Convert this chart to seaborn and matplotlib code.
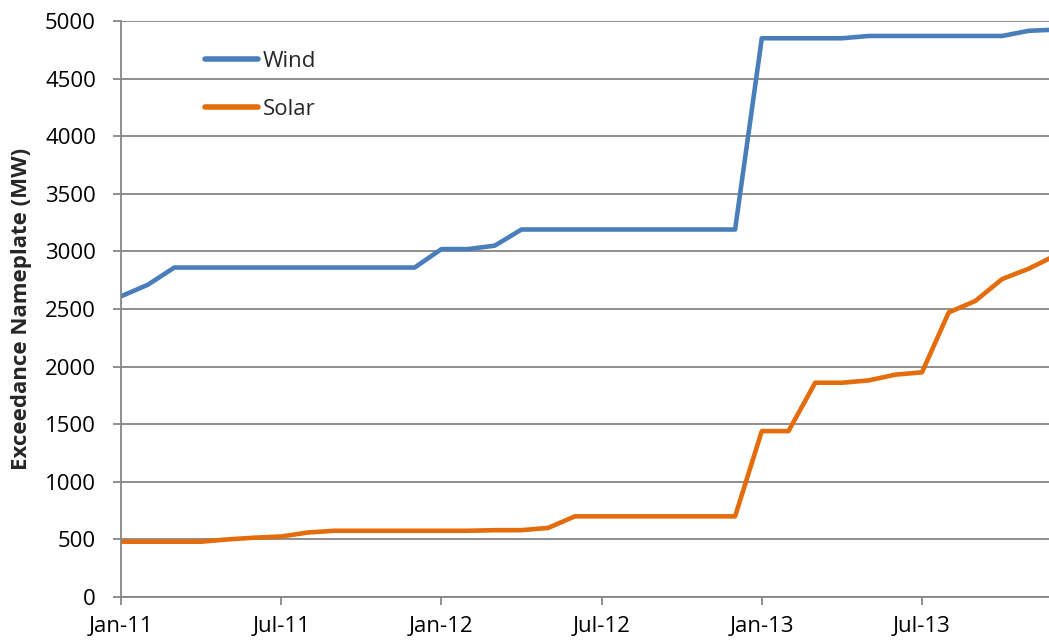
import numpy as np
import pandas as pd
import matplotlib
matplotlib.use("Agg")
import matplotlib.pyplot as plt
import seaborn as sns

months = pd.date_range("2011-01-01", "2013-12-01", freq="MS")
wind = [2610, 2710, 2860, 2860, 2860, 2860, 2860, 2860, 2860, 2860, 2860, 2860,
        3020, 3020, 3050, 3190, 3190, 3190, 3190, 3190, 3190, 3190, 3190, 3190,
        4850, 4850, 4850, 4850, 4870, 4870, 4870, 4870, 4870, 4870, 4915, 4925]
solar = [480, 480, 480, 480, 500, 515, 525, 560, 575, 575, 575, 575,
         575, 575, 580, 580, 600, 700, 700, 700, 700, 700, 700, 700,
         1440, 1440, 1860, 1860, 1880, 1930, 1950, 2470, 2570, 2760, 2850, 2965]
series_names = ["Wind", "Solar"]
colors = ["#4A7EBB", "#E46C0A"]
y_ticks = list(range(0, 5001, 500))
x_tick_labels = ["Jan-11", "Jul-11", "Jan-12", "Jul-12", "Jan-13", "Jul-13"]

month_idx = np.arange(len(months))
df = pd.concat([
    pd.DataFrame({"month": month_idx, "value": wind, "series": "Wind"}),
    pd.DataFrame({"month": month_idx, "value": solar, "series": "Solar"}),
])

sns.set_theme(style="white")
plt.rcParams["font.family"] = ["Open Sans", "DejaVu Sans"]

W, H = 1049, 643
fig = plt.figure(figsize=(W / 100, H / 100), dpi=100)
ax_left, ax_right_px, ax_top, ax_bottom = 121, 1070, 21, 597
ax = fig.add_axes([ax_left / W, 1 - ax_bottom / H, (ax_right_px - ax_left) / W,
                   (ax_bottom - ax_top) / H])

sns.lineplot(data=df, x="month", y="value", hue="series", hue_order=series_names,
             palette=colors, linewidth=3.3, ax=ax, legend=True)

ax.set_ylim(0, 5000)
px_per_month = (922 - 121) / 30
ax.set_xlim(0, (ax_right_px - ax_left) / px_per_month)

ax.set_yticks(y_ticks)
ax.set_xticks(np.arange(0, 31, 6))
ax.set_xticklabels(x_tick_labels)

ax.grid(axis="y", color="#868686", linewidth=1.3)
ax.set_axisbelow(True)
for s in ["top", "right"]:
    ax.spines[s].set_visible(False)
for s in ["left", "bottom"]:
    ax.spines[s].set_color("#868686")
    ax.spines[s].set_linewidth(1.3)
ax.tick_params(axis="both", which="both", direction="out", length=6, width=1.3,
               color="#868686", labelsize=16, labelcolor="black",
               left=True, bottom=True)
ax.tick_params(axis="y", pad=12)
ax.tick_params(axis="x", pad=8)

ax.set_xlabel("")
ax.set_ylabel("Exceedance Nameplate (MW)", fontsize=16, fontweight="bold", labelpad=9)

leg = ax.legend(loc="upper left", bbox_to_anchor=((205 - ax_left) / (ax_right_px - ax_left),
                                                  (ax_bottom - 51) / (ax_bottom - ax_top)),
                frameon=False, fontsize=16, handlelength=2.4, handletextpad=0.2,
                labelspacing=1.2, borderaxespad=0, borderpad=0)
for line in leg.get_lines():
    line.set_linewidth(4)
    line.set_solid_capstyle("round")

fig.savefig("out.png", dpi=100)
